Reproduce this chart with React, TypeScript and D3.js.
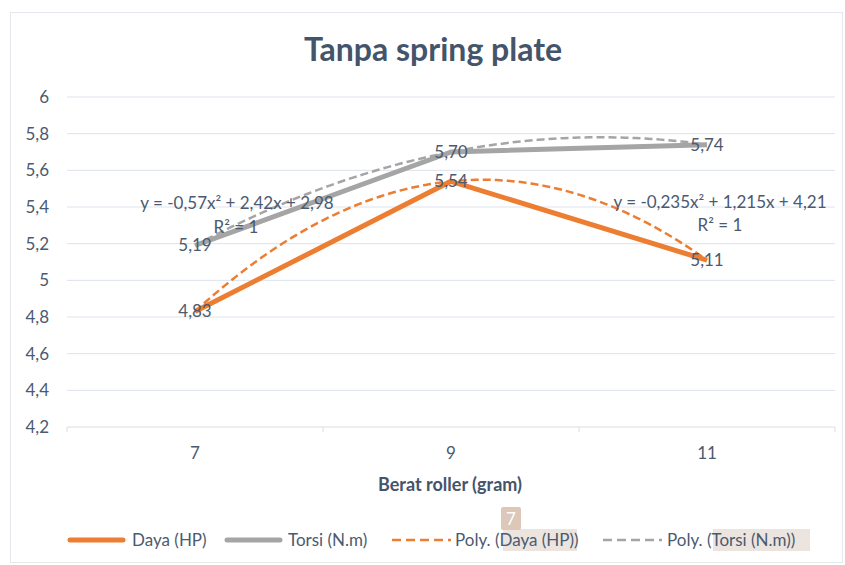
import React from "react";
import * as d3 from "d3";

const categories = ["7", "9", "11"];
const daya = [4.83, 5.54, 5.11];
const torsi = [5.19, 5.70, 5.74];
// trendline coefficients (a, b, c) as shown on the chart, x = 1..3
const dayaFit = [-0.57, 2.42, 2.98];
const torsiFit = [-0.235, 1.215, 4.21];
const dayaEq = "y = -0,57x² + 2,42x + 2,98";
const torsiEq = "y = -0,235x² + 1,215x + 4,21";
const yTicks = [4.2, 4.4, 4.6, 4.8, 5, 5.2, 5.4, 5.6, 5.8, 6];

const W = 845;
const H = 565;
const left = 67;
const right = 835;
const top = 97;
const bottom = 427;
const font = "Lato, 'Open Sans', sans-serif";
const txt = "#4b5a70";
const orange = "#ed7d31";
const gray = "#a5a5a5";
const fs = 17;

const fmt = (v: number, d: number) => v.toFixed(d).replace(".", ",");

export default function App() {
  const x = d3.scaleBand<string>().domain(categories).range([left, right]);
  const cx = (i: number) => (x(categories[i]) as number) + x.bandwidth() / 2;
  const y = d3.scaleLinear().domain([4.2, 6]).range([bottom, top]);

  const line = d3
    .line<number>()
    .x((_, i) => cx(i))
    .y((d) => y(d));

  // x in trendline space (1..3) -> pixel
  const tx = d3.scaleLinear().domain([1, 3]).range([cx(0), cx(2)]);
  const fitPath = (c: number[]) =>
    d3
      .line<number>()
      .x((t) => tx(t))
      .y((t) => y(c[0] * t * t + c[1] * t + c[2]))(d3.range(1, 3.0001, 0.02));

  const boundaries = [0, 1, 2].map((i) => x(categories[i]) as number).concat([right]);

  return (
    <svg width={W} height={H} style={{ position: "absolute", left: 0, top: 0 }}>
      <rect x={0} y={0} width={W} height={H} fill="#fff" />
      <rect x={10.5} y={12.5} width={832} height={550} fill="#fff" stroke="#e4e7ec" />
      <text x={433} y={61} textAnchor="middle" fontFamily={font} fontWeight="bold" fontSize={32} fill="#44546a">
        Tanpa spring plate
      </text>

      {yTicks.map((t) => (
        <g key={t}>
          {t !== 4.2 && <line x1={left} x2={right} y1={y(t)} y2={y(t)} stroke="#dde3ec" strokeWidth={1} />}
          <text x={49} y={y(t)} dy="0.35em" textAnchor="end" fontFamily={font} fontSize={fs} fill={txt}>
            {fmt(t, t === 5 || t === 6 ? 0 : 1)}
          </text>
        </g>
      ))}
      <line x1={left} x2={right} y1={bottom} y2={bottom} stroke="#d9dde5" />
      {boundaries.map((b, i) => (
        <line key={i} x1={b} x2={b} y1={bottom} y2={bottom + 5} stroke="#d9dde5" />
      ))}
      {categories.map((c, i) => (
        <text key={c} x={cx(i)} y={453} dy="0.35em" textAnchor="middle" fontFamily={font} fontSize={fs} fill={txt}>
          {c}
        </text>
      ))}
      <text x={450} y={485} dy="0.35em" textAnchor="middle" fontFamily={font} fontWeight="bold" fontSize={18} fill="#44546a">
        Berat roller (gram)
      </text>

      <path d={line(daya) ?? ""} fill="none" stroke={orange} strokeWidth={5} strokeLinejoin="round" />
      <path d={line(torsi) ?? ""} fill="none" stroke={gray} strokeWidth={5} strokeLinejoin="round" />
      <path d={fitPath(dayaFit) ?? ""} fill="none" stroke={orange} strokeWidth={2.5} strokeDasharray="8,4" />
      <path d={fitPath(torsiFit) ?? ""} fill="none" stroke={gray} strokeWidth={2.5} strokeDasharray="8,4" />

      {[daya, torsi].map((s, k) =>
        s.map((v, i) => (
          <text key={`${k}-${i}`} x={cx(i)} y={y(v)} dy="0.35em" textAnchor="middle" fontFamily={font} fontSize={fs} fill={txt}>
            {fmt(v, 2)}
          </text>
        ))
      )}

      <text x={237} y={203} dy="0.35em" textAnchor="middle" fontFamily={font} fontSize={fs} fill={txt}>{dayaEq}</text>
      <text x={236} y={227} dy="0.35em" textAnchor="middle" fontFamily={font} fontSize={fs} fill={txt}>R² = 1</text>
      <text x={720} y={202} dy="0.35em" textAnchor="middle" fontFamily={font} fontSize={fs} fill={txt}>{torsiEq}</text>
      <text x={720} y={225} dy="0.35em" textAnchor="middle" fontFamily={font} fontSize={fs} fill={txt}>R² = 1</text>

      {/* legend */}
      <rect x={503} y={529} width={74} height={22} fill="#ece4de" />
      <rect x={713} y={529} width={97} height={22} fill="#ece4de" />
      <rect x={501} y={507} width={20} height={23} rx={2} fill="#dcc7b9" />
      <text x={511} y={519} dy="0.35em" textAnchor="middle" fontFamily={font} fontSize={fs} fill="#fff">7</text>
      <line x1={70} x2={123} y1={540} y2={540} stroke={orange} strokeWidth={5} strokeLinecap="round" />
      <text x={132} y={540} dy="0.35em" fontFamily={font} fontSize={fs} fill={txt}>Daya (HP)</text>
      <line x1={227} x2={280} y1={540} y2={540} stroke={gray} strokeWidth={5} strokeLinecap="round" />
      <text x={288} y={540} dy="0.35em" fontFamily={font} fontSize={fs} fill={txt}>Torsi (N.m)</text>
      <line x1={392} x2={451} y1={540} y2={540} stroke={orange} strokeWidth={2.5} strokeDasharray="9,5" />
      <text x={455} y={540} dy="0.35em" fontFamily={font} fontSize={fs} fill={txt}>Poly. (Daya (HP))</text>
      <line x1={603} x2={662} y1={540} y2={540} stroke={gray} strokeWidth={2.5} strokeDasharray="9,5" />
      <text x={667} y={540} dy="0.35em" fontFamily={font} fontSize={fs} fill={txt}>Poly. (Torsi (N.m))</text>
    </svg>
  );
}
